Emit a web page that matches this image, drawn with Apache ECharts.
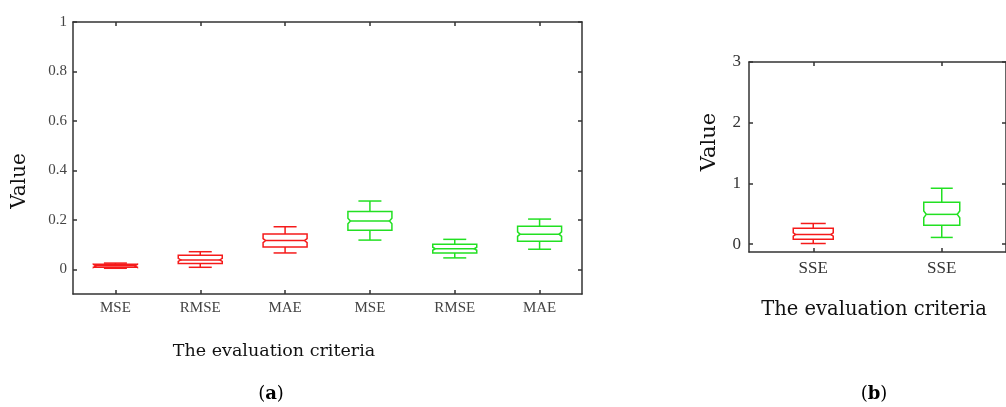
<!DOCTYPE html>
<html><head><meta charset="utf-8">
<script src="https://cdn.jsdelivr.net/npm/echarts@6/dist/echarts.min.js"></script>
<style>html,body{margin:0;padding:0;background:#fff}#c{width:1006px;height:407px}</style>
</head><body><div id="c"></div>
<script>
// ---- data ----
const catsA = ['MSE', 'RMSE', 'MAE', 'MSE', 'RMSE', 'MAE'];
// each row: [categoryIndex, low whisker, Q1, median, Q3, high whisker]
const redA = [[0, 0.004, 0.008, 0.014, 0.020, 0.025], [1, 0.008, 0.023, 0.038, 0.057, 0.071], [2, 0.066, 0.090, 0.116, 0.143, 0.172]];
const greenA = [[3, 0.118, 0.158, 0.195, 0.234, 0.276], [4, 0.046, 0.066, 0.083, 0.101, 0.121], [5, 0.081, 0.113, 0.142, 0.174, 0.203]];
const catsB = ['SSE', 'SSE'];
const redB = [[0, 0.01, 0.08, 0.16, 0.26, 0.34]];
const greenB = [[1, 0.11, 0.31, 0.49, 0.69, 0.92]];
const yTicksA = [0, 0.2, 0.4, 0.6, 0.8, 1];
const yTicksB = [0, 1, 2, 3];
const xNameA = 'The evaluation criteria';
const xNameB = 'The evaluation criteria';
const yName = 'Value';

const RED = '#f51a1a', GREEN = '#22e022', AX = '#333';
const tickFontA = { fontFamily: 'Liberation Serif', fontSize: 15, color: '#444' };
const tickFontB = { fontFamily: 'Liberation Serif', fontSize: 17, color: '#333' };

function makeRender(boxW, capW, color) {
  return function (params, api) {
    const x = api.value(0);
    const lo = api.coord([x, api.value(1)]);
    const q1 = api.coord([x, api.value(2)]);
    const md = api.coord([x, api.value(3)]);
    const q3 = api.coord([x, api.value(4)]);
    const hi = api.coord([x, api.value(5)]);
    const cx = lo[0], hw = boxW / 2, hc = capW / 2;
    const iqr = q1[1] - q3[1];
    const nh = Math.max(1.5, iqr * 0.15);
    const ind = 2.5;
    const m = md[1];
    const st = { stroke: color, lineWidth: 1.5, fill: null };
    return {
      type: 'group',
      children: [
        { type: 'polygon', shape: { points: [[cx - hw, q3[1]], [cx + hw, q3[1]], [cx + hw, m - nh], [cx + hw - ind, m], [cx + hw, m + nh], [cx + hw, q1[1]], [cx - hw, q1[1]], [cx - hw, m + nh], [cx - hw + ind, m], [cx - hw, m - nh]] }, style: st },
        { type: 'line', shape: { x1: cx - hw + ind, y1: m, x2: cx + hw - ind, y2: m }, style: st },
        { type: 'line', shape: { x1: cx, y1: q3[1], x2: cx, y2: hi[1] }, style: st },
        { type: 'line', shape: { x1: cx, y1: q1[1], x2: cx, y2: lo[1] }, style: st },
        { type: 'line', shape: { x1: cx - hc, y1: hi[1], x2: cx + hc, y2: hi[1] }, style: st },
        { type: 'line', shape: { x1: cx - hc, y1: lo[1], x2: cx + hc, y2: lo[1] }, style: st }
      ]
    };
  };
}

function catAxis(grid, cats, pos, showLabel, margin, font) {
  return {
    type: 'category', gridIndex: grid, data: cats, position: pos, boundaryGap: true,
    axisLine: { show: true, onZero: false, lineStyle: { color: AX, width: 1.5 } },
    axisTick: { show: true, inside: true, length: 4, alignWithLabel: true, interval: 0, lineStyle: { color: AX, width: 1.5 } },
    axisLabel: Object.assign({ show: showLabel, interval: 0, margin: margin }, font),
    splitLine: { show: false }
  };
}
function valAxis(grid, min, max, ticks, pos, showLabel, margin, font) {
  return {
    type: 'value', gridIndex: grid, min: min, max: max, position: pos,
    axisLine: { show: true, onZero: false, lineStyle: { color: AX, width: 1.5 } },
    axisTick: { show: true, inside: true, length: 4, customValues: ticks, lineStyle: { color: AX, width: 1.5 } },
    axisLabel: Object.assign({ show: showLabel, customValues: ticks, margin: margin }, font),
    splitLine: { show: false }
  };
}

const chart = echarts.init(document.getElementById('c'), null, { renderer: 'canvas' });
function tf(size) { return { fontFamily: 'DejaVu Serif', fontSize: size, fill: '#111' }; }
function panelLabel(letter, x, y, size) {
  return { type: 'text', x: x, y: y, style: { text: '{n|(}{b|' + letter + '}{n|)}', align: 'center', verticalAlign: 'middle', rich: { n: { fontFamily: 'DejaVu Serif', fontSize: size, color: '#111' }, b: { fontFamily: 'DejaVu Serif', fontSize: size, fontWeight: 'bold', color: '#111' } } } };
}
chart.setOption({
  animation: false,
  backgroundColor: '#fff',
  grid: [
    { left: 73, top: 22, width: 509, height: 272 },
    { left: 749, top: 62, width: 263, height: 190 }
  ],
  xAxis: [
    catAxis(0, catsA, 'bottom', true, 7, tickFontA),
    catAxis(0, catsA, 'top', false, 7, tickFontA),
    catAxis(1, catsB, 'bottom', true, 8, tickFontB),
    catAxis(1, catsB, 'top', false, 8, tickFontB)
  ],
  yAxis: [
    valAxis(0, -0.1, 1, yTicksA, 'left', true, 6, tickFontA),
    valAxis(0, -0.1, 1, yTicksA, 'right', false, 6, tickFontA),
    valAxis(1, -0.13, 3, yTicksB, 'left', true, 8, tickFontB),
    valAxis(1, -0.13, 3, yTicksB, 'right', false, 8, tickFontB)
  ],
  series: [
    { type: 'custom', xAxisIndex: 0, yAxisIndex: 0, data: redA, encode: { x: 0, y: [1, 2, 3, 4, 5] }, renderItem: makeRender(44, 23, RED) },
    { type: 'custom', xAxisIndex: 0, yAxisIndex: 0, data: greenA, encode: { x: 0, y: [1, 2, 3, 4, 5] }, renderItem: makeRender(44, 23, GREEN) },
    { type: 'custom', xAxisIndex: 2, yAxisIndex: 2, data: redB, encode: { x: 0, y: [1, 2, 3, 4, 5] }, renderItem: makeRender(40, 25, RED) },
    { type: 'custom', xAxisIndex: 2, yAxisIndex: 2, data: greenB, encode: { x: 0, y: [1, 2, 3, 4, 5] }, renderItem: makeRender(36, 22, GREEN) }
  ],
  graphic: [
    { type: 'text', x: 274, y: 351, style: Object.assign({ text: xNameA, align: 'center', verticalAlign: 'middle' }, tf(17.5)) },
    { type: 'text', x: 874, y: 310, style: Object.assign({ text: xNameB, align: 'center', verticalAlign: 'middle' }, tf(19.5)) },
    { type: 'text', x: 20, y: 181, rotation: Math.PI / 2, style: Object.assign({ text: yName, align: 'center', verticalAlign: 'middle' }, tf(20)) },
    { type: 'text', x: 710, y: 142, rotation: Math.PI / 2, style: Object.assign({ text: yName, align: 'center', verticalAlign: 'middle' }, tf(21)) },
    panelLabel('a', 271, 394, 18),
    panelLabel('b', 874, 394, 18)
  ]
});
</script>
</body></html>
